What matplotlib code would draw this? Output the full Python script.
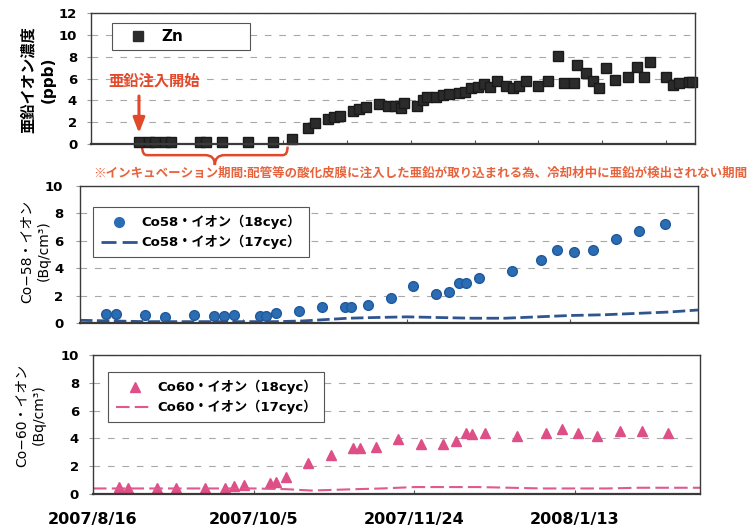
import numpy as np
import pandas as pd
import matplotlib
matplotlib.use("Agg")
import matplotlib.pyplot as plt
import matplotlib.dates as mdates
import matplotlib.transforms as mtransforms
from matplotlib.lines import Line2D
from matplotlib.path import Path
from matplotlib.patches import PathPatch

plt.rcParams['font.family'] = ['DejaVu Sans', 'Noto Sans CJK JP']

# 横軸: 2007/8/16 からの経過日数
start = pd.Timestamp("2007-08-16")
span_days = 189
tick_days = [0, 50, 100, 150]
tick_labels = ["2007/8/16", "2007/10/5", "2007/11/24", "2008/1/13"]

# 亜鉛イオン濃度 (ppb)
zn_day = [15, 18, 20, 23, 25, 34, 36, 41, 49, 57, 63,
          68, 70, 74, 76, 78, 82, 84, 86, 90, 93, 95, 97, 98, 102,
          104, 105, 108, 110, 112, 115, 117, 119, 121, 123, 125, 127,
          130, 132, 134, 136, 140, 143, 146, 148, 151, 152, 155, 157, 159,
          161, 164, 168, 171, 173, 175, 180, 182, 184, 187, 188]
zn_ppb = [0.2, 0.2, 0.2, 0.2, 0.2, 0.2, 0.2, 0.2, 0.2, 0.2, 0.5,
          1.5, 1.9, 2.3, 2.5, 2.6, 3.0, 3.2, 3.4, 3.7, 3.5, 3.5, 3.3, 3.8, 3.5,
          4.0, 4.3, 4.3, 4.5, 4.6, 4.7, 4.8, 5.1, 5.2, 5.5, 5.2, 5.8,
          5.3, 5.1, 5.3, 5.8, 5.3, 5.8, 8.1, 5.6, 5.6, 7.2, 6.5, 5.8, 5.1,
          7.0, 5.9, 6.1, 7.1, 6.1, 7.5, 6.1, 5.4, 5.6, 5.7, 5.7]

# Co-58 / Co-60 イオン (Bq/cm3) 18サイクル 測定日
co_day = [8, 11, 20, 26, 35, 41, 44, 47, 55, 57, 60, 67, 74, 81, 83, 88,
          95, 102, 109, 113, 116, 118, 122, 132, 141, 146, 151, 157, 164, 171, 179]
co58_18 = [0.65, 0.65, 0.6, 0.45, 0.6, 0.5, 0.5, 0.6, 0.5, 0.5, 0.75, 0.9, 1.2, 1.2, 1.2, 1.35,
           1.8, 2.7, 2.1, 2.3, 2.9, 2.9, 3.3, 3.8, 4.6, 5.3, 5.2, 5.3, 6.1, 6.7, 7.2]
co60_18 = [0.5, 0.45, 0.45, 0.45, 0.45, 0.45, 0.55, 0.65, 0.8, 0.85, 1.2, 2.2, 2.8, 3.3, 3.3, 3.4,
           3.95, 3.6, 3.6, 3.8, 4.4, 4.3, 4.4, 4.2, 4.4, 4.7, 4.4, 4.2, 4.5, 4.5, 4.4]

# 17サイクル (前サイクル)
prev_day = [0, 10, 20, 30, 40, 50, 60, 68, 75, 82, 90, 100, 110, 120, 130, 140, 150, 160, 170, 180, 189]
co58_17 = [0.2, 0.15, 0.1, 0.1, 0.1, 0.1, 0.1, 0.15, 0.25, 0.35, 0.4, 0.45, 0.4, 0.35, 0.35,
           0.45, 0.55, 0.6, 0.7, 0.8, 0.95]
co60_17 = [0.4, 0.4, 0.4, 0.4, 0.4, 0.4, 0.35, 0.25, 0.3, 0.35, 0.4, 0.5, 0.5, 0.5, 0.45,
           0.4, 0.4, 0.4, 0.45, 0.45, 0.45]

red = "#e2482a"
blue = "#2b6cb3"
pink = "#dd4f86"


def days(d):
    return start + pd.to_timedelta(np.asarray(d), unit="D")


def frame(ax, ymax, ypad):
    ax.set_xlim(start, start + pd.Timedelta(days=span_days))
    ax.set_ylim(0, ymax)
    ax.set_yticks(range(0, ymax + 1, 2))
    ax.yaxis.grid(True, color="#a8a8a8", lw=0.8, ls=(0, (6, 7)))
    ax.set_axisbelow(True)
    for s in ax.spines.values():
        s.set_color("#3a3a3a")
        s.set_linewidth(1.0)
    ax.spines["bottom"].set_linewidth(1.6)
    ax.tick_params(axis="y", direction="out", length=3, color="#999999",
                   pad=ypad, labelsize=9.5)
    plt.setp(ax.get_yticklabels(), fontweight="bold")
    ax.set_xticks(days(tick_days))
    ax.set_xticklabels([])
    ax.tick_params(axis="x", direction="in", length=3, color="#555555")


fig = plt.figure(figsize=(7.53, 5.26), dpi=100)
ax1 = fig.add_axes([0.1209, 0.7262, 0.8021, 0.2490])
ax2 = fig.add_axes([0.1062, 0.3859, 0.8207, 0.2605])
ax3 = fig.add_axes([0.1235, 0.0608, 0.8061, 0.2643])

# --- 亜鉛 ---
frame(ax1, 12, 7)
ax1.set_xticks(days(range(0, 181, 20)))
ax1.set_xticklabels([])
ax1.plot(days(zn_day), zn_ppb, ls="none", marker="s", ms=7.5,
         color="#2b2b2b", mec="#1a1a1a", clip_on=False)
ax1.legend([Line2D([], [], ls="none", marker="s", ms=7.5, color="#2b2b2b")], ["Zn"],
           loc="center left", bbox_to_anchor=(0.035, 0.725, 0.228, 0.191), mode="expand",
           borderaxespad=0, fancybox=False, edgecolor="#555555", framealpha=1,
           prop=dict(size=11, weight="bold"), handlelength=2.6, handletextpad=0.2,
           borderpad=0.4).get_frame().set_linewidth(0.8)

x_inj = start + pd.Timedelta(days=zn_day[0])
ax1.text(x_inj + pd.Timedelta(days=4.7), 5.8, "亜鉛注入開始", color=red,
         fontsize=11, fontweight="bold", ha="center", va="center",
         family=["Noto Sans CJK JP"])
ax1.annotate("", xy=(x_inj, 1.0), xytext=(x_inj, 4.4),
             arrowprops=dict(arrowstyle="-|>,head_width=0.35,head_length=0.9",
                             color=red, lw=2.2, shrinkA=0, shrinkB=0))

# インキュベーション期間の括弧
trans = mtransforms.blended_transform_factory(ax1.transData, ax1.transAxes)
xl = mdates.date2num(start + pd.Timedelta(days=zn_day[0] + 1))
xr = mdates.date2num(start + pd.Timedelta(days=zn_day[10] - 1.5))
xm = (xl + xr) / 2
r, rm = 1.5, 3.0
ytop, ymid, ytip = -0.02, -0.085, -0.16
verts = [(xl, ytop), (xl, ymid), (xl + r, ymid), (xm - rm, ymid), (xm, ymid), (xm, ytip),
         (xm, ymid), (xm + rm, ymid), (xr - r, ymid), (xr, ymid), (xr, ytop)]
codes = [Path.MOVETO, Path.CURVE3, Path.CURVE3, Path.LINETO, Path.CURVE3, Path.CURVE3,
         Path.CURVE3, Path.CURVE3, Path.LINETO, Path.CURVE3, Path.CURVE3]
ax1.add_patch(PathPatch(Path(verts, codes), transform=trans, fill=False,
                        ec=red, lw=1.8, clip_on=False))

fig.text(0.1235, 1 - 173 / 526,
         "※インキュベーション期間:配管等の酸化皮膜に注入した亜鉛が取り込まれる為、冷却材中に亜鉛が検出されない期間",
         color="#e8623c", fontsize=9, fontweight="bold", ha="left", va="center",
         family=["Noto Sans CJK JP"])

# --- Co-58 ---
frame(ax2, 10, 9)
ax2.plot(days(co_day), co58_18, ls="none", marker="o", ms=7, color=blue, mec="#1f5a9c")
ax2.plot(days(prev_day), co58_17, color="#2e5590", lw=2, dashes=(4.5, 1.6))
leg = ax2.legend([Line2D([], [], ls="none", marker="o", ms=7, color=blue),
                  Line2D([], [], color="#2e5590", lw=2, dashes=(5.4, 2.2))],
                 ["Co58・イオン（18cyc）", "Co58・イオン（17cyc）"],
                 loc="upper left", bbox_to_anchor=(0.021, 0.847), borderaxespad=0,
                 fancybox=False, edgecolor="#555555", framealpha=1,
                 prop=dict(size=9.5, weight="bold"), handlelength=2.8,
                 handletextpad=0.3, borderpad=0.6, labelspacing=0.45)
leg.get_frame().set_linewidth(0.8)

# --- Co-60 ---
frame(ax3, 10, 7)
ax3.plot(days(co_day), co60_18, ls="none", marker="^", ms=7.5, color=pink, mec=pink)
ax3.plot(days(prev_day), co60_17, color="#e0588e", lw=1.5, dashes=(6.5, 2.5))
leg = ax3.legend([Line2D([], [], ls="none", marker="^", ms=7.5, color=pink),
                  Line2D([], [], color="#e0588e", lw=1.5, dashes=(6.5, 2.5))],
                 ["Co60・イオン（18cyc）", "Co60・イオン（17cyc）"],
                 loc="upper left", bbox_to_anchor=(0.025, 0.878), borderaxespad=0,
                 fancybox=False, edgecolor="#555555", framealpha=1,
                 prop=dict(size=9.5, weight="bold"), handlelength=2.8,
                 handletextpad=0.3, borderpad=0.6, labelspacing=0.45)
leg.get_frame().set_linewidth(0.8)
ax3.set_xticklabels(tick_labels, fontsize=11.5, fontweight="bold")
ax3.tick_params(axis="x", pad=13)

# 縦軸ラベル
fig.text(38 / 753, 1 - 80 / 526, "亜鉛イオン濃度\n(ppb)", rotation=90, ha="center",
         va="center", multialignment="center", fontsize=11, fontweight="bold", linespacing=1.4)
fig.text(35 / 753, 1 - 251 / 526, "Co−58・イオン\n(Bq/cm³)", rotation=90, ha="center",
         va="center", multialignment="center", fontsize=10, linespacing=1.25)
fig.text(30 / 753, 1 - 415 / 526, "Co−60・イオン\n(Bq/cm³)", rotation=90, ha="center",
         va="center", multialignment="center", fontsize=10, linespacing=1.25)

fig.savefig("out.png", dpi=100)
